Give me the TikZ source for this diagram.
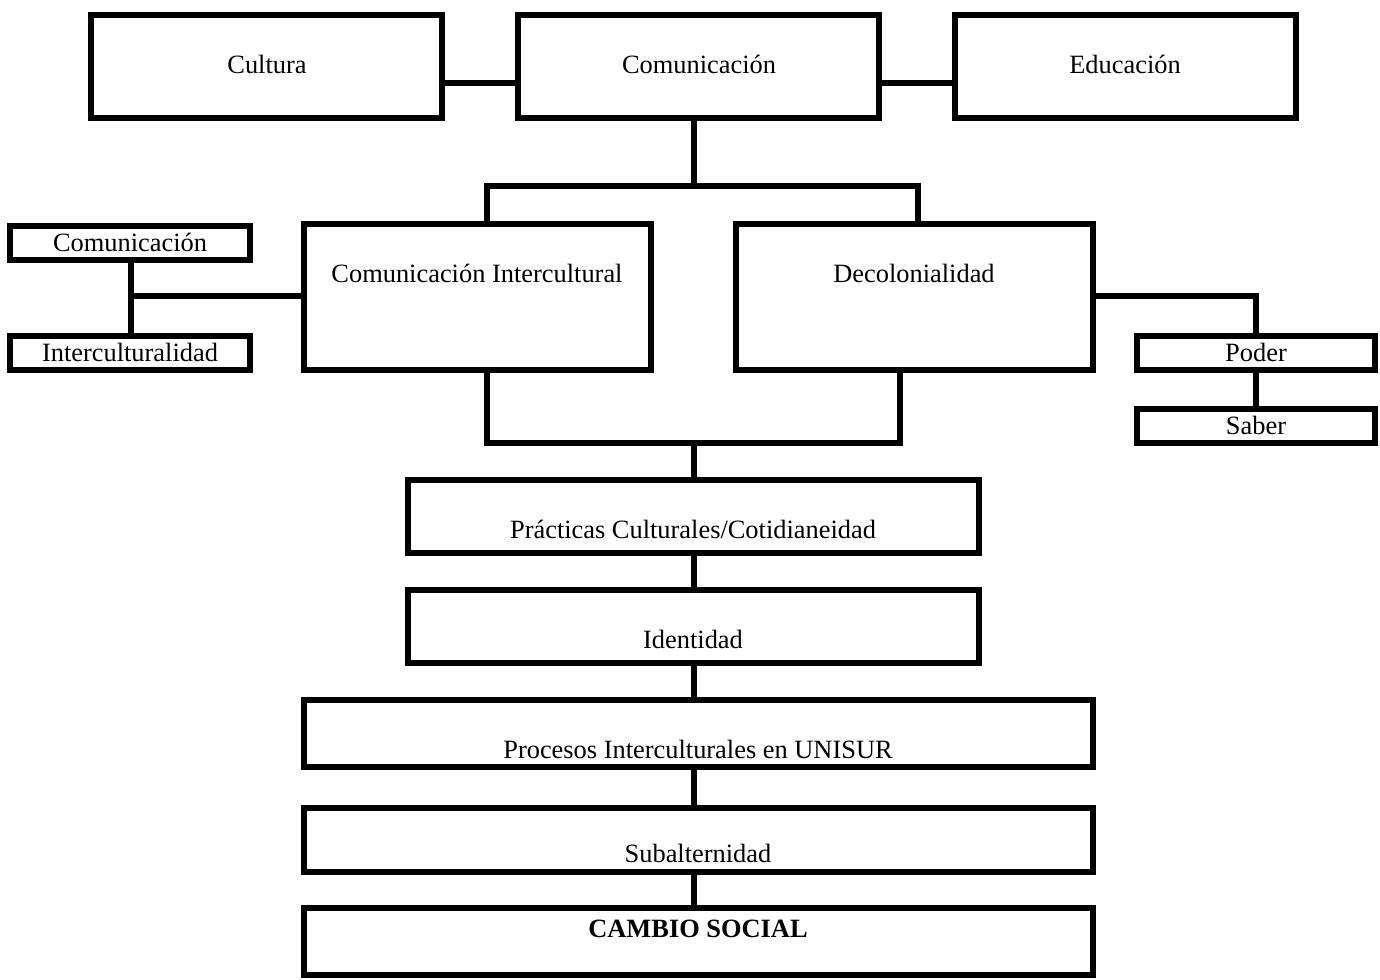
\documentclass[tikz,border=0pt]{standalone}
\usepackage{fontspec}
\setmainfont{Liberation Serif}
\usetikzlibrary{fit,calc}
\tikzset{
  box/.style={draw, line width=2.75pt, inner sep=0pt},
  link/.style={line width=2.75pt},
  lbl/.style={font=\fontsize{13.2}{15}\selectfont, anchor=base, inner sep=0pt}
}
\begin{document}
\begin{tikzpicture}[x=0.5pt,y=-0.5pt]
  \useasboundingbox (0,0) rectangle (1380,979);

  % top row
  \node[box, fit={(91,15) (442,118)}] (cult) {};
  \node[box, fit={(518,15) (879,118)}] (com) {};
  \node[box, fit={(955,15) (1296,118)}] (edu) {};
  \node[lbl] (cultxt) at (267,74) {Cultura};
  \node[lbl] (comtxt) at (699,74) {Comunicación};
  \node[lbl] (edutxt) at (1125,74) {Educación};

  % second row
  \node[box, fit={(304,224) (651,370)}] (ci) {};
  \node[box, fit={(736,224) (1093,370)}] (dec) {};
  \node[lbl] (citxt) at (477,282) {Comunicación Intercultural};
  \node[lbl] (dectxt) at (914,282) {Decolonialidad};

  % side boxes
  \node[box, fit={(10,226) (250,260)}] (lcom) {};
  \node[box, fit={(10,336) (250,370)}] (lint) {};
  \node[box, fit={(1137,336) (1375,370)}] (poder) {};
  \node[box, fit={(1137,409) (1375,443)}] (saber) {};
  \node[lbl] (lcomtxt) at (130,251) {Comunicación};
  \node[lbl] (linttxt) at (130,361) {Interculturalidad};
  \node[lbl] (podertxt) at (1256,361) {Poder};
  \node[lbl] (sabertxt) at (1256,434) {Saber};

  % lower column
  \node[box, fit={(408,480) (979,553)}] (prac) {};
  \node[box, fit={(408,590) (979,663)}] (ident) {};
  \node[box, fit={(304,700) (1093,767)}] (proc) {};
  \node[box, fit={(304,808) (1093,872)}] (sub) {};
  \node[box, fit={(304,908) (1093,975)}] (cambio) {};
  \node[lbl] (practxt) at (693,538) {Prácticas Culturales/Cotidianeidad};
  \node[lbl] (identtxt) at (693,648) {Identidad};
  \node[lbl] (proctxt) at (698,758) {Procesos Interculturales en UNISUR};
  \node[lbl] (subtxt) at (698,862) {Subalternidad};
  \node[lbl, font=\fontsize{13.2}{15}\selectfont\bfseries] (cambiotxt) at (698,937) {CAMBIO SOCIAL};

  % connectors
  \coordinate (topline) at (0,83);
  \coordinate (upbar) at (694,186);
  \coordinate (lowbar) at (694,443);
  \coordinate (ljoin) at (131,296);
  \coordinate (rjoin) at (0,296);

  \draw[link] (cult.east |- topline) -- (com.west |- topline);
  \draw[link] (com.east |- topline) -- (edu.west |- topline);
  \draw[link] (com.south -| upbar) -- (upbar);
  \draw[link] (ci.north -| 487,0) |- (upbar) -| (dec.north -| 918,0);

  \draw[link] (lcom.south -| ljoin) -- (lint.north -| ljoin);
  \draw[link] (ljoin) -- (ci.west |- ljoin);
  \draw[link] (dec.east |- rjoin) -| (poder.north);
  \draw[link] (poder) -- (saber);

  \draw[link] (ci.south -| 487,0) |- (lowbar) -| (dec.south -| 900,0);
  \draw[link] (lowbar) -- (prac.north -| lowbar);
  \draw[link] (prac.south -| lowbar) -- (ident.north -| lowbar);
  \draw[link] (ident.south -| lowbar) -- (proc.north -| lowbar);
  \draw[link] (proc.south -| lowbar) -- (sub.north -| lowbar);
  \draw[link] (sub.south -| lowbar) -- (cambio.north -| lowbar);
\end{tikzpicture}
\end{document}
